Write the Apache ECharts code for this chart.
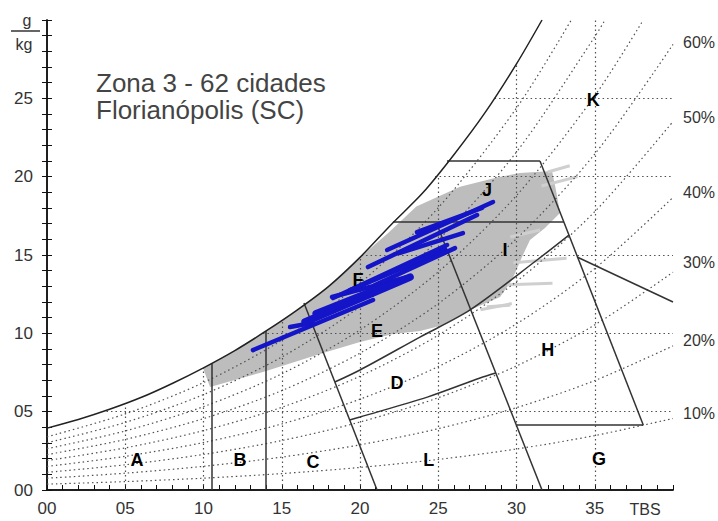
<!DOCTYPE html>
<html><head><meta charset="utf-8">
<script src="https://cdn.jsdelivr.net/npm/echarts@6.0.0/dist/echarts.min.js"></script>
<style>html,body{margin:0;padding:0;background:#fff}#c{width:718px;height:521px}</style>
</head><body><div id="c"></div>
<script>
// Saturation curve (100% RH)
const satT = [0,2,4,6,8,10,12,14,16,18,20,22,24,26,28,30,31.63];
const satW = [3.95,4.5,5.15,5.9,6.8,7.8,8.9,10.15,11.5,13.0,14.85,16.95,18.95,21.4,24.1,27.2,30];
// Relative humidity dotted curves
const rhT = [0,5,10,15,20,25,30,35,40];
const rh10 = [0.375,0.536,0.755,1.048,1.439,1.951,2.617,3.474,4.566];
const rh20 = [0.751,1.073,1.511,2.100,2.885,3.915,5.257,6.987,9.200];
const rh30 = [1.127,1.610,2.270,3.156,4.338,5.891,7.919,10.540,13.902];
const rh40 = [1.504,2.149,3.030,4.215,5.797,7.880,10.603,14.134,18.676];
const rh50 = [1.881,2.688,3.792,5.278,7.264,9.882,13.311,17.768,23.521];
const rh60 = [2.258,3.228,4.556,6.344,8.736,11.896,16.042,21.444,28.441];
const rh70T = [0,5,10,15,20,25,30,35,38.1];
const rh70 = [2.636,3.770,5.322,7.414,10.216,13.922,18.797,25.162,30];
const rh80T = [0,5,10,15,20,25,30,35,35.65];
const rh80 = [3.015,4.312,6.090,8.487,11.703,15.962,21.575,28.925,30];
const rh90T = [0,5,10,15,20,25,30,33.5];
const rh90 = [3.394,4.856,6.859,9.565,13.197,18.016,24.378,30];
// Dotted grid
const gridVT = [5,10,15,20,25,30,35];
const gridVTop = [5.35,7.8,10.8,14.85,20.1,27.2,30];
const gridHW = [5,10,15,20,25];
const gridHStart = [3.8,13.8,20.1,24.8,28.6];
// Zone boundary straight lines
const zoneT1 = [10.5,14,16.42,24.9,31.5,25.56,22.1,30.0,33.87];
const zoneW1 = [0,0,11.93,17.0,21.0,21.0,17.1,4.15,14.87];
const zoneT2 = [10.5,14,21.09,31.63,38.1,31.5,33.03,38.1,40];
const zoneW2 = [8.1,10.15,0,0,4.15,21.0,17.1,4.15,12.0];
// Curved zone boundaries
const edT = [18.39,20.0,23.83,27.03,31.31,33.35];
const edW = [6.89,7.66,9.76,11.49,14.68,16.27];
const dlT = [19.34,20.0,24.3,27.67,28.67];
const dlW = [4.47,4.66,5.93,7.15,7.47];
// Gray climate data cloud
const cloudT = [9.97,12,14,16,18,20,21.8,23.6,26.39,28.75,30.22,32.27,32.52,32.78,31.82,30.86,30.35,29.71,28.95,27.03,25.11,23.83,22.11,20.0,17.64,13.8,10.42];
const cloudW = [7.79,8.9,10.15,11.5,13.0,14.85,16.4,18.1,19.35,19.95,20.23,20.36,19.15,17.68,16.72,15.95,14.87,13.40,12.32,11.49,10.47,10.15,9.96,9.44,8.74,7.53,6.57];
// Light gray streaks
const stT1 = [31.6,29.6,29.8,29.4,28.1,32.0,27.7];
const stW1 = [19.4,16.15,14.5,13.1,11.7,20.3,11.5];
const stT2 = [33.9,31.5,33.2,32.3,29.6,33.4,29.7];
const stW2 = [20.0,16.6,14.8,13.2,11.8,20.7,11.9];
// Blue lines (thin)
const blueT1 = [13.16,15.53,18.21,18.28,20.51,21.73,22.56,19.36,20.96,23.64];
const blueW1 = [8.93,10.40,12.32,12.25,14.23,15.32,15.13,12.76,13.08,16.46];
const blueT2 = [20.83,16.93,23.0,25.56,27.48,28.5,26.58,25.43,26.07,27.8];
const blueW2 = [12.13,10.66,13.59,15.64,17.55,18.38,16.4,15.32,15.44,18.0];
// Blue lines (thick band)
const bandT1 = [16.49,17.2];
const bandW1 = [10.72,11.25];
const bandT2 = [23.2,21.6];
const bandW2 = [13.59,13.0];
// Zone letters
const letterNames = ['A','B','C','D','E','F','G','H','I','J','K','L'];
const letterT = [5.75,12.33,17.0,22.36,21.09,19.87,35.27,32.0,29.27,28.12,34.9,24.4];
const letterW = [1.91,1.91,1.79,6.83,10.15,13.4,1.98,8.93,15.32,19.15,24.9,1.91];
// Right side RH labels
const rhLabels = ['10%','20%','30%','40%','50%','60%'];
const rhLabelW = [4.91,9.57,14.49,19.02,23.8,28.59];

const FF = 'Liberation Sans, Arial, sans-serif';
const zip = (a,b) => a.map((v,i)=>[v,b[i]]);
const segs = (t1,w1,t2,w2) => t1.map((v,i)=>({coords:[[v,w1[i]],[t2[i],w2[i]]]}));
const pad = v => (v<10?'0':'')+v;
const dotStyle = {color:'#505050', width:1.2, type:[1.5,3]};

const series = [];
const cloudPts = zip(cloudT, cloudW);
series.push({type:'custom', coordinateSystem:'cartesian2d', data:cloudPts, encode:{x:0,y:1}, z:1, silent:true,
  renderItem:(params, api)=>{ if(params.dataIndex!==0) return null;
    return {type:'polygon', shape:{points:cloudPts.map(p=>api.coord(p))}, style:{fill:'#bdbdbd'}}; }});
series.push({type:'lines', coordinateSystem:'cartesian2d', data:segs(stT1,stW1,stT2,stW2), z:2, silent:true,
  lineStyle:{color:'#cfcfcf', width:3, opacity:1}});
series.push({type:'lines', coordinateSystem:'cartesian2d', z:3, silent:true, lineStyle:Object.assign({opacity:1},dotStyle),
  data: gridVT.map((t,i)=>({coords:[[t,0],[t,gridVTop[i]]]})).concat(gridHW.map((w,i)=>({coords:[[gridHStart[i],w],[40,w]]})))});
[[rhT,rh10],[rhT,rh20],[rhT,rh30],[rhT,rh40],[rhT,rh50],[rhT,rh60],[rh70T,rh70],[rh80T,rh80],[rh90T,rh90]].forEach(([t,w])=>{
  series.push({type:'line', data:zip(t,w), smooth:0.3, symbol:'none', z:3, silent:true, lineStyle:dotStyle});
});
series.push({type:'lines', coordinateSystem:'cartesian2d', data:segs(zoneT1,zoneW1,zoneT2,zoneW2), z:4, silent:true,
  lineStyle:{color:'#333', width:1.5, opacity:1}});
series.push({type:'line', data:zip(edT,edW), smooth:0.3, symbol:'none', z:4, silent:true, lineStyle:{color:'#333', width:1.5}});
series.push({type:'line', data:zip(dlT,dlW), smooth:0.3, symbol:'none', z:4, silent:true, lineStyle:{color:'#333', width:1.5}});
series.push({type:'line', data:zip(satT,satW), smooth:0.3, symbol:'none', z:4, silent:true, lineStyle:{color:'#222', width:1.5}});
series.push({type:'lines', coordinateSystem:'cartesian2d', data:segs(blueT1,blueW1,blueT2,blueW2), z:5, silent:true,
  lineStyle:{color:'#1414c8', width:4.5, opacity:1, cap:'round'}});
series.push({type:'lines', coordinateSystem:'cartesian2d', data:segs(bandT1,bandW1,bandT2,bandW2), z:5, silent:true,
  lineStyle:{color:'#1414c8', width:7.5, opacity:1, cap:'round'}});
const letterPts = zip(letterT, letterW);
series.push({type:'custom', coordinateSystem:'cartesian2d', data:letterPts, encode:{x:0,y:1}, z:6, silent:true,
  renderItem:(params, api)=>{ const p = api.coord([api.value(0), api.value(1)]);
    return {type:'text', x:p[0], y:p[1], style:{text:letterNames[params.dataIndex], fontSize:18, fontWeight:'bold', fontFamily:FF, fill:'#000', align:'center', verticalAlign:'middle'}}; }});
const rhLabPts = rhLabelW.map(w=>[40,w]);
series.push({type:'custom', coordinateSystem:'cartesian2d', data:rhLabPts, encode:{x:0,y:1}, z:6, silent:true, clip:false,
  renderItem:(params, api)=>{ const p = api.coord([api.value(0), api.value(1)]);
    return {type:'text', x:p[0]+10, y:p[1], style:{text:rhLabels[params.dataIndex], fontSize:16, fontFamily:FF, fill:'#333', align:'left', verticalAlign:'middle'}}; }});

const axBase = {type:'value', splitLine:{show:false}, axisLine:{show:true, lineStyle:{color:'#111', width:1.5}},
  axisTick:{show:true, length:5, lineStyle:{color:'#111', width:1}}, minorTick:{show:true, splitNumber:5, length:5, lineStyle:{color:'#111', width:1}}};

const option = {
  animation:false,
  backgroundColor:'#fff',
  title:{text:'Zona 3 - 62 cidades\nFlorianópolis (SC)', left:96, top:69, padding:0,
    textStyle:{fontSize:26, fontWeight:'normal', color:'#444', lineHeight:27, fontFamily:FF}},
  grid:{left:47, right:45, top:20, bottom:31, containLabel:false},
  xAxis:[
    Object.assign({}, axBase, {position:'bottom', min:0, max:40, interval:5,
      axisTick:Object.assign({}, axBase.axisTick, {inside:true}),
      axisLabel:{show:true, margin:10, fontSize:17, color:'#333', fontFamily:FF, formatter:v=>v<40?pad(v):''}}),
    Object.assign({}, axBase, {position:'top', min:0, max:40, interval:5, axisLabel:{show:false}})
  ],
  yAxis:[
    Object.assign({}, axBase, {position:'left', min:0, max:30, interval:5,
      axisLabel:{show:true, margin:14, fontSize:17, color:'#333', fontFamily:FF, formatter:v=>v<30?pad(v):''}}),
    Object.assign({}, axBase, {position:'right', min:0, max:30, interval:5, axisLabel:{show:false}})
  ],
  graphic:[
    {type:'text', x:27, y:20, style:{text:'g', fontSize:16, fontFamily:FF, fill:'#333', align:'center', verticalAlign:'middle'}},
    {type:'line', shape:{x1:11, y1:31, x2:40, y2:31}, style:{stroke:'#333', lineWidth:1.5}},
    {type:'text', x:24, y:44, style:{text:'kg', fontSize:16, fontFamily:FF, fill:'#333', align:'center', verticalAlign:'middle'}},
    {type:'text', x:645, y:509, style:{text:'TBS', fontSize:16, fontFamily:FF, fill:'#333', align:'center', verticalAlign:'middle'}}
  ],
  series: series
};
const chart = echarts.init(document.getElementById('c'), null, {renderer:'svg'});
chart.setOption(option);
</script>
</body></html>
